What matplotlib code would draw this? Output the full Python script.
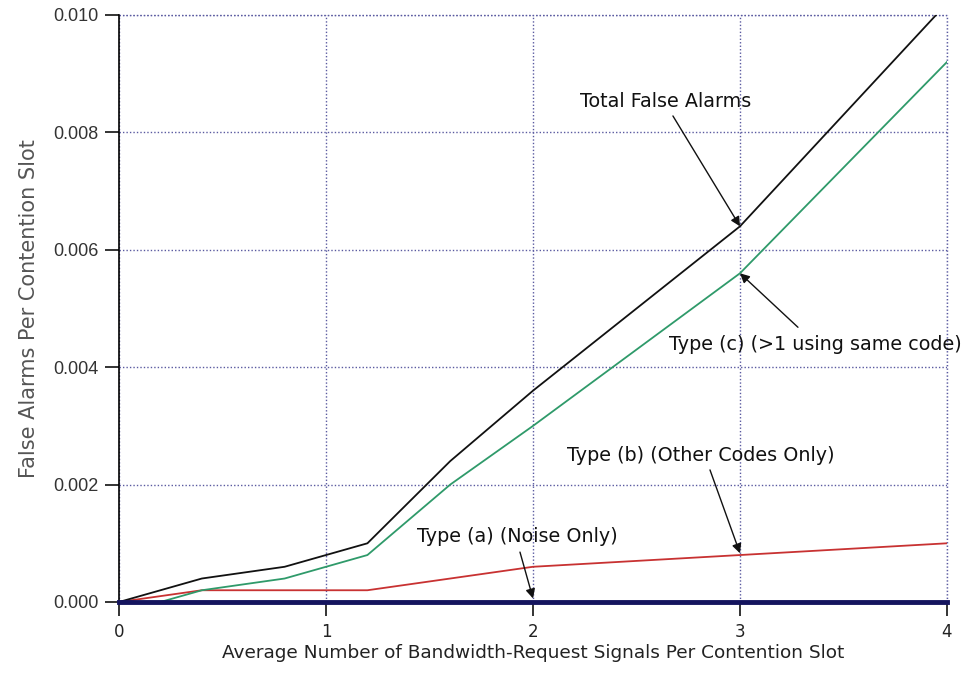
import matplotlib
matplotlib.use("Agg")
import matplotlib.pyplot as plt

NF = ["DejaVu Sans"]

# Data
x = [0, 0.2, 0.4, 0.8, 1.2, 1.6, 2.0, 3.0, 4.0]
type_a = [0, 0, 0, 0, 0, 0, 0, 0, 0]
type_b = [0, 0.0001, 0.0002, 0.0002, 0.0002, 0.0004, 0.0006, 0.0008, 0.0010]
type_c = [0, 0.0, 0.0002, 0.0004, 0.0008, 0.0020, 0.0030, 0.0056, 0.0092]
total = [0, 0.0002, 0.0004, 0.0006, 0.0010, 0.0024, 0.0036, 0.0064, 0.0102]

xticks = [0, 1, 2, 3, 4]
yticks = [0.000, 0.002, 0.004, 0.006, 0.008, 0.010]
ytick_labels = ["0.000", "0.002", "0.004", "0.006", "0.008", "0.010"]

fig = plt.figure(figsize=(9.67, 6.78), dpi=100)
ax = fig.add_axes([0.1231, 0.1121, 0.8562, 0.8658])

ax.plot(x, type_b, color="#c83232", lw=1.3, zorder=3)
ax.plot(x, type_c, color="#2f9a6a", lw=1.3, zorder=3)
ax.plot(x, total, color="#111111", lw=1.3, zorder=4)
ax.plot(x, type_a, color="#14145e", lw=3.5, zorder=5, clip_on=False)

ax.set_xlim(0, 4)
ax.set_ylim(0, 0.010)
ax.set_xticks(xticks)
ax.set_xticklabels([str(t) for t in xticks], family=NF, fontsize=12, color="#222222")
ax.set_yticks(yticks)
ax.set_yticklabels(ytick_labels, family=["Liberation Sans", "DejaVu Sans"], fontsize=13, color="#333333")
ax.tick_params(axis="both", direction="out", length=10, width=1.2, color="#111111", pad=5)

grid_style = dict(linestyle=(0, (1, 1.5)), color="#5a5aa0", lw=1.0)
ax.grid(True, zorder=0, **grid_style)
for s in ["top", "right"]:
    ax.spines[s].set_visible(False)
ax.spines["left"].set_linewidth(1.2)
ax.spines["bottom"].set_visible(False)
ax.axhline(0.010, zorder=0, clip_on=False, **grid_style)
ax.axvline(4, zorder=0, clip_on=False, **grid_style)

ax.set_ylabel("False Alarms Per Contention Slot", family=NF,
              fontsize=15, color="#555555", labelpad=10)
ax.set_xlabel("Average Number of Bandwidth-Request Signals Per Contention Slot",
              family=NF, fontsize=13.3, color="#222222", labelpad=2)

ann = dict(arrowprops=dict(arrowstyle="-|>", color="#111111", lw=1.0, mutation_scale=14,
                           shrinkA=0, shrinkB=0),
           annotation_clip=False)
tkw = dict(fontsize=13.8, family=NF, color="#111111", ha="center", va="center", clip_on=False)

ax.text(2.64, 0.00852, "Total False Alarms", **tkw)
ax.annotate("", xy=(3.0, 0.0064), xytext=(2.676, 0.00828), **ann)

ax.text(3.362, 0.00438, "Type (c) (>1 using same code)", **tkw)
ax.annotate("", xy=(3.0, 0.0056), xytext=(3.28, 0.00468), **ann)

ax.text(2.812, 0.0025, "Type (b) (Other Codes Only)", **tkw)
ax.annotate("", xy=(3.0, 0.00083), xytext=(2.855, 0.00225), **ann)

ax.text(1.923, 0.00111, "Type (a) (Noise Only)", **tkw)
ax.annotate("", xy=(2.0, 0.00006), xytext=(1.937, 0.00085), **ann)

fig.savefig("out.png", dpi=100)
